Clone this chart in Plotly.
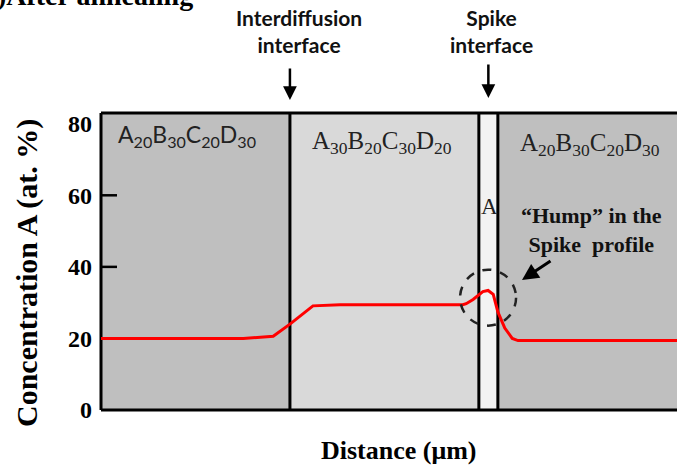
import plotly.graph_objects as go

# Concentration of A across the diffusion couple after annealing
distance_um = [0, 24.7, 29.9, 32.8, 36.8, 41.5, 62.8, 63.4, 64.6, 65.5, 66.3, 67.2, 68.1, 68.9, 70.1, 71.4, 72.4, 100]
conc_A = [20, 20, 20.6, 24.0, 29.1, 29.4, 29.4, 29.7, 30.9, 32.2, 33.1, 33.4, 32.3, 27.4, 22.9, 20.0, 19.4, 19.4]

# Layers of the couple (start / end distance, label, fill)
layer_start = [0, 32.8, 65.6, 68.9]
layer_end = [32.8, 65.6, 68.9, 120]
layer_names = [
    "A<sub>20</sub>B<sub>30</sub>C<sub>20</sub>D<sub>30</sub>",
    "A<sub>30</sub>B<sub>20</sub>C<sub>30</sub>D<sub>20</sub>",
    "A",
    "A<sub>20</sub>B<sub>30</sub>C<sub>20</sub>D<sub>30</sub>",
]
layer_colors = ["#BFBFBF", "#D9D9D9", "#F2F2F2", "#BFBFBF"]

# Interfaces marked with arrows
interface_names = ["Interdiffusion<br>interface", "Spike<br>interface"]
interface_x = [32.8, 67.25]

y_tick_vals = [0, 20, 40, 60, 80]
y_tick_text = ["0", "20", "40", "60", "80"]

# page geometry (pixels)
W, H = 677, 465
L, R, T, B = 101, 677, 113, 410


def px(xp):
    return (xp - L) / (R - L)


def py(yp):
    return (B - yp) / (B - T)


SERIF = "Liberation Serif"
SANS = "Lato"

fig = go.Figure()
fig.add_trace(go.Scatter(
    x=distance_um, y=conc_A, mode="lines",
    line=dict(color="#FF0000", width=3),
    hoverinfo="skip", showlegend=False,
))

shapes = []
# layer fills
for x0, x1, col in zip(layer_start, layer_end, layer_colors):
    shapes.append(dict(type="rect", xref="x", yref="paper", x0=x0, x1=x1, y0=0, y1=1,
                       fillcolor=col, line=dict(width=0), layer="below"))
# layer boundaries
for xb in layer_start[1:]:
    shapes.append(dict(type="line", xref="x", yref="paper", x0=xb, x1=xb, y0=0, y1=1,
                       line=dict(color="black", width=3), layer="below"))
# frame: left, top, bottom
shapes.append(dict(type="line", xref="paper", yref="paper", x0=0, x1=0, y0=0, y1=1,
                   line=dict(color="black", width=3), layer="below"))
shapes.append(dict(type="line", xref="paper", yref="paper", x0=0, x1=1.05, y0=1, y1=1,
                   line=dict(color="black", width=3), layer="below"))
shapes.append(dict(type="line", xref="paper", yref="paper", x0=0, x1=1.05, y0=0, y1=0,
                   line=dict(color="black", width=3), layer="below"))
# inner tick marks on the concentration axis
for tv in y_tick_vals[1:-1]:
    shapes.append(dict(type="line", xref="paper", yref="y", x0=0, x1=px(117), y0=tv, y1=tv,
                       line=dict(color="black", width=2.5), layer="below"))
# dashed circle around the hump of the spike profile
hump_x, hump_y = 67.2, 31.4
rx, ry = 28 / 5.76, 28 / 3.58
shapes.append(dict(type="circle", xref="x", yref="y",
                   x0=hump_x - rx, x1=hump_x + rx, y0=hump_y - ry, y1=hump_y + ry,
                   line=dict(color="#222222", width=2.5, dash="dash"), layer="above"))

annotations = []
# layer labels
label_pos = [(187, 135, SANS, 23), (382, 142, SERIF, 25), (489, 206, SERIF, 23), (590, 144, SERIF, 25)]
for name, (xp, yp, fam, size) in zip(layer_names, label_pos):
    annotations.append(dict(x=px(xp), y=py(yp), xref="paper", yref="paper", text=name,
                            showarrow=False, xanchor="center", yanchor="middle",
                            font=dict(family=fam, size=size, color="#222222")))
# interface labels and arrows
for name, xv, (lx, ly), (tip, tail) in zip(interface_names, interface_x,
                                           [(299, 31), (491, 31)], [(100, 67), (98, 63)]):
    annotations.append(dict(x=px(lx), y=py(ly), xref="paper", yref="paper", text=name,
                            showarrow=False, xanchor="center", yanchor="middle",
                            font=dict(family=SANS, size=21, color="#111111", weight="bold")))
    annotations.append(dict(x=xv, y=py(tip), xref="x", yref="paper", text="",
                            showarrow=True, ax=0, ay=tail - tip, arrowhead=2, arrowsize=1.1,
                            arrowwidth=2.5, arrowcolor="black"))
# hump note
annotations.append(dict(x=px(591), y=py(230), xref="paper", yref="paper",
                        text="\u201cHump\u201d in the<br>Spike&nbsp;&nbsp;profile",
                        showarrow=False, xanchor="center", yanchor="middle",
                        font=dict(family=SERIF, size=22, color="#111111", weight="bold")))
annotations.append(dict(x=px(522), y=py(280), xref="paper", yref="paper", text="",
                        showarrow=True, ax=30, ay=-20, arrowhead=2, arrowsize=1.1,
                        arrowwidth=3, arrowcolor="black"))
# panel title
annotations.append(dict(x=px(195), y=py(-5), xref="paper", yref="paper",
                        text="(b)After annealing", showarrow=False,
                        xanchor="right", yanchor="middle",
                        font=dict(family=SERIF, size=28, color="black", weight="bold")))
# axis titles
annotations.append(dict(x=px(399), y=py(450), xref="paper", yref="paper",
                        text="Distance (\u03bcm)", showarrow=False,
                        xanchor="center", yanchor="middle",
                        font=dict(family=SERIF, size=26, color="black", weight="bold")))
annotations.append(dict(x=px(27), y=py(273), xref="paper", yref="paper",
                        text="Concentration A (at. %)", showarrow=False, textangle=-90,
                        xanchor="center", yanchor="middle",
                        font=dict(family=SERIF, size=30, color="black", weight="bold")))

fig.update_layout(
    width=W, height=H,
    margin=dict(l=L, r=W - R, t=T, b=H - B, pad=0),
    paper_bgcolor="white", plot_bgcolor="white",
    shapes=shapes, annotations=annotations,
    xaxis=dict(range=[0, 100], showgrid=False, zeroline=False, showticklabels=False,
               ticks="", showline=False, fixedrange=True),
    yaxis=dict(range=[0, 83], showgrid=False, zeroline=False, showline=False,
               tickvals=y_tick_vals, ticktext=y_tick_text, ticks="",
               ticklabelstandoff=8,
               tickfont=dict(family=SERIF, size=24, color="black", weight="bold"),
               fixedrange=True),
)

fig.write_html("out.html")
